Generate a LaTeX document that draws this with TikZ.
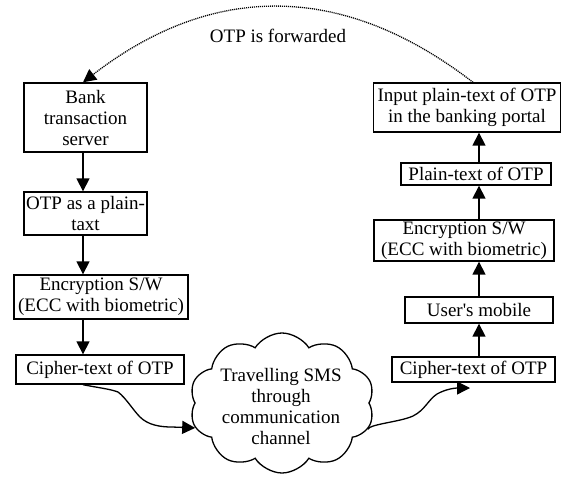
\documentclass[tikz,border=0pt]{standalone}
\usepackage{fontspec}
\setmainfont{Liberation Serif}
\newfontfamily\qfont{Liberation Serif}[Ligatures=ResetAll]
\usetikzlibrary{arrows.meta,shapes.symbols,calc}
\tikzset{
  box/.style={draw, line width=1.4pt, align=center, inner sep=0pt, font=\fontsize{19}{21}\selectfont},
  arr/.style={line width=1.6pt, -{Triangle[length=13pt,width=13pt]}},
  curvy/.style={line width=1.3pt, -{Triangle[length=13pt,width=13pt]}},
  lbl/.style={font=\fontsize{19}{21}\selectfont, align=center, inner sep=0pt}
}
\begin{document}
\begin{tikzpicture}[x=1pt,y=-1pt]
\useasboundingbox (0,0) rectangle (562,477);
% left column
\node[box, minimum width=123pt, minimum height=69pt] (bank) at (85.5,117.5) {Bank\\transaction\\server};
\node[box, minimum width=123pt, minimum height=43pt] (plainL) at (85.5,213.5) {OTP as a plain-\\taxt};
\node[box, minimum width=174pt, minimum height=44pt] (encL) at (101,297) {Encryption S/W\\(ECC with biometric)};
\node[box, minimum width=168pt, minimum height=29pt] (ciphL) at (100,369.5) {Cipher-text of OTP};
% right column
\node[box, minimum width=187pt, minimum height=49pt] (input) at (467,107.5) {Input plain-text of OTP\\in the banking portal};
\node[box, minimum width=150pt, minimum height=22pt] (plainR) at (476,174) {Plain-text of OTP};
\node[box, minimum width=180pt, minimum height=41pt] (encR) at (464,240.5) {Encryption S/W\\(ECC with biometric)};
\node[box, minimum width=148pt, minimum height=26pt] (user) at (479,310) {User{\qfont\symbol{39}}s mobile};
\node[box, minimum width=163pt, minimum height=25pt] (ciphR) at (473.5,369.5) {Cipher-text of OTP};
% cloud
\node[cloud, draw, line width=1.3pt, cloud puffs=10, cloud puff arc=115, cloud ignores aspect, minimum width=185pt, minimum height=140pt, inner sep=0pt] (cl) at (282,403) {};
\node[lbl] (cltext) at (281,406) {Travelling SMS\\through\\communication\\channel};
% left arrows
\draw[arr] ([xshift=-2.5pt]bank.south) -- ([xshift=-2.5pt]plainL.north);
\draw[arr] ([xshift=-2.5pt]plainL.south) -- ([xshift=-2.5pt]plainL.south |- encL.north);
\draw[arr] ([xshift=-2.5pt]plainL.south |- encL.south) -- ([xshift=-2.5pt]plainL.south |- ciphL.north);
% right arrows
\draw[arr] (user.south |- ciphR.north) -- (user.south);
\draw[arr] (user.north) -- (user.north |- encR.south);
\draw[arr] (user.north |- encR.north) -- (user.north |- plainR.south);
\draw[arr] (user.north |- plainR.north) -- (user.north |- input.south);
% cloud connectors
\draw[curvy] ([xshift=-17pt]ciphL.south) .. controls (100,388) and (110,389) .. (118,392)
  .. controls (126,398) and (133,410) .. (140,417)
  .. controls (148,425) and (160,427) .. (172,427) -- (cl.196);
\draw[curvy] (cl.-17) .. controls (370,424) and (400,422) .. (413,416)
  .. controls (425,410) and (428,400) .. (437,394)
  .. controls (446,389) and (455,388) .. (470,388);
% top dotted arc
\draw[line width=1.3pt, dash pattern=on 1.1pt off 0.9pt, -{Triangle[length=13pt,width=13pt]}]
  ([xshift=6pt]input.north) .. controls (343,-18) and (213,-18) .. ([xshift=-2.5pt]bank.north)
  node[pos=0.5, lbl, yshift=-29pt] (fwd) {OTP is forwarded};
\end{tikzpicture}
\end{document}
